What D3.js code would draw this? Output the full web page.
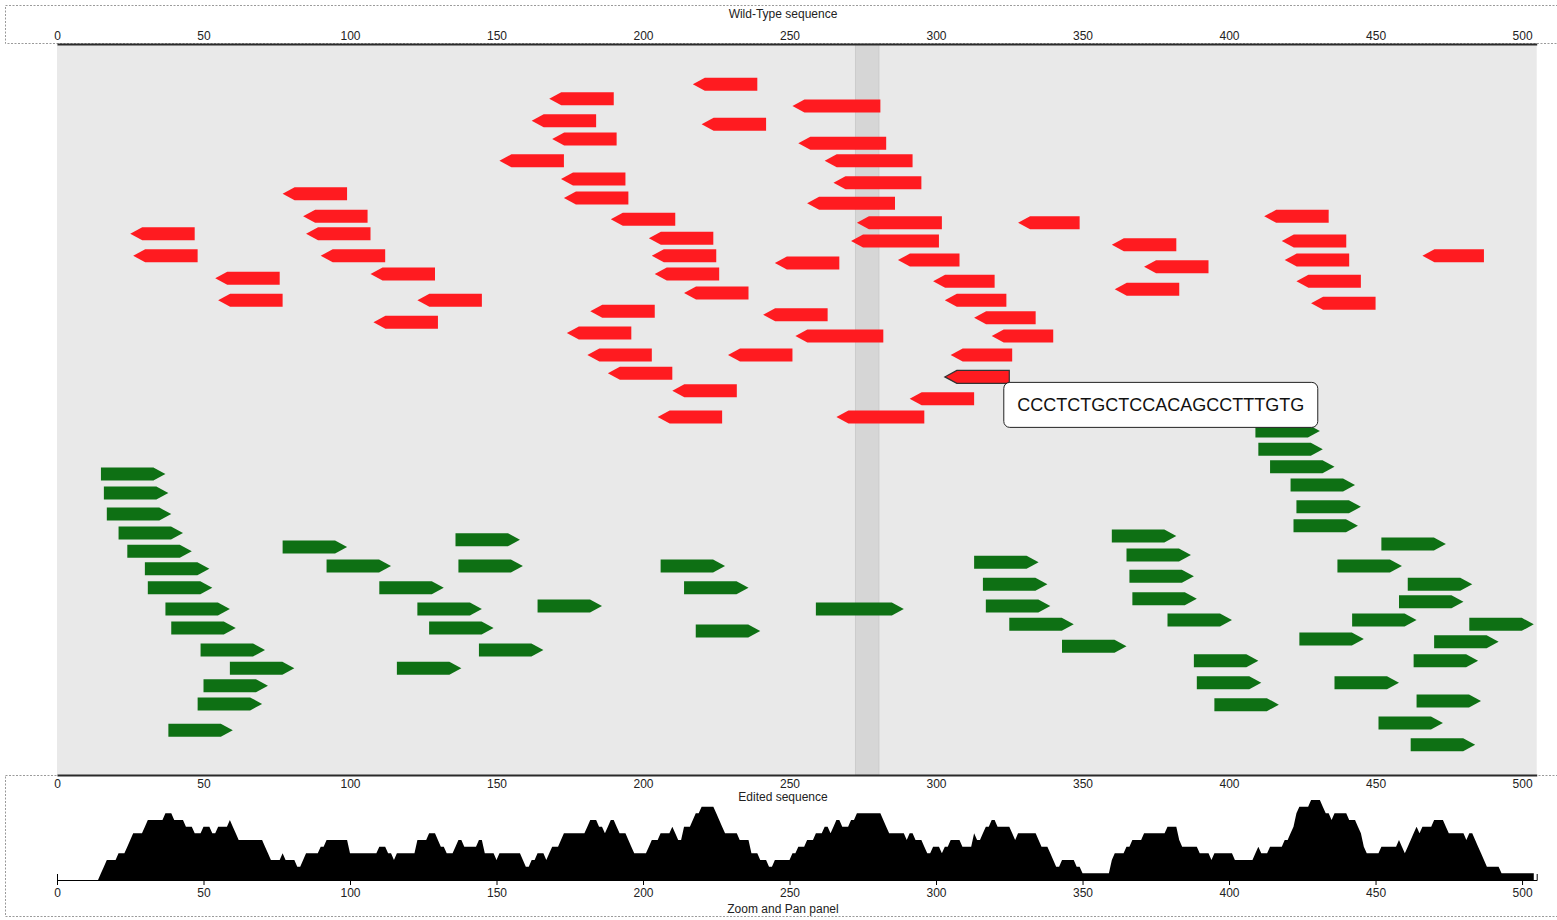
<!DOCTYPE html>
<html>
<head>
<meta charset="utf-8">
<script src="https://cdn.jsdelivr.net/npm/d3@7"></script>
<style>
  body { margin: 0; background: #fff; }
  svg text { font-family: "Liberation Sans", Arial, Helvetica, sans-serif; }
</style>
</head>
<body>
<svg id="chart" width="1557" height="920"></svg>
<script>
// Sequence length and axis ticks (bp)
const seqLength = 505;
const xTicks = [0, 50, 100, 150, 200, 250, 300, 350, 400, 450, 500];

// Guides on the reverse strand: [start bp, end bp, lane]
const reverseGuides = [
  [217, 239, 5.5], [168, 190, 7.5], [162, 184, 10.5], [220, 242, 11.0],
  [169, 191, 13.0], [151, 173, 16.0], [172, 194, 18.5], [173, 195, 21.1],
  [77, 99, 20.5], [84, 106, 23.6], [85, 107, 26.0], [25, 47, 26.0],
  [26, 48, 29.0], [90, 112, 29.0], [107, 129, 31.5], [54, 76, 32.1],
  [55, 77, 35.1], [123, 145, 35.1], [108, 130, 38.1], [189, 211, 24.0],
  [202, 224, 26.6], [203, 225, 29.0], [204, 226, 31.5], [214, 236, 34.1],
  [182, 204, 36.6], [174, 196, 39.6], [181, 203, 42.6], [188, 210, 45.1],
  [210, 232, 47.5], [205, 227, 51.1],
  [251, 281, 8.5], [253, 283, 13.6], [262, 292, 16.0], [265, 295, 19.0],
  [256, 286, 21.8], [273, 302, 24.5], [271, 301, 27.0], [245, 267, 30.0],
  [287, 308, 29.6], [299, 320, 32.5], [303, 324, 35.1], [241, 263, 37.1],
  [313, 334, 37.5], [252, 282, 40.0], [319, 340, 40.0], [229, 251, 42.6],
  [305, 326, 42.6], [303, 325, 45.6], [291, 313, 48.6], [266, 296, 51.1],
  [328, 349, 24.5], [360, 382, 27.5], [371, 393, 30.5], [361, 383, 33.6],
  [412, 434, 23.6], [418, 440, 27.0], [419, 441, 29.6], [423, 445, 32.5],
  [428, 450, 35.5], [466, 487, 29.0]
];

// Guides on the forward strand: [start bp, end bp, lane]
const forwardGuides = [
  [15, 37, 58.9], [16, 38, 61.5], [17, 39, 64.4], [21, 43, 67.0],
  [24, 46, 69.5], [30, 52, 71.9], [31, 53, 74.5], [37, 59, 77.4],
  [39, 61, 80.0], [49, 71, 83.0], [59, 81, 85.5], [50, 72, 87.9],
  [48, 70, 90.4], [38, 60, 94.0], [77, 99, 68.9], [92, 114, 71.5],
  [110, 132, 74.5], [123, 145, 77.4], [127, 149, 80.0], [144, 166, 83.0],
  [116, 138, 85.5], [136, 158, 67.9], [137, 159, 71.5], [164, 186, 77.0],
  [206, 228, 71.5], [214, 236, 74.5], [218, 240, 80.4],
  [409, 431, 53.0], [410, 432, 55.5], [414, 436, 57.9], [421, 443, 60.4],
  [423, 445, 63.4], [422, 444, 66.0], [360, 382, 67.4], [365, 387, 70.0],
  [366, 388, 72.9], [367, 389, 76.0], [379, 401, 78.9], [313, 335, 71.0],
  [316, 338, 74.0], [317, 339, 77.0], [325, 347, 79.5], [343, 365, 82.5],
  [259, 289, 77.4], [388, 410, 84.5], [389, 411, 87.5], [395, 417, 90.5],
  [452, 474, 68.5], [437, 459, 71.5], [461, 483, 74.0], [458, 480, 76.4],
  [442, 464, 78.9], [482, 504, 79.5], [424, 446, 81.5], [470, 492, 81.9],
  [463, 485, 84.5], [436, 458, 87.5], [464, 486, 90.0], [451, 473, 93.0],
  [462, 484, 96.0]
];

// Currently selected window (bp) and the guide under the pointer
const selectedWindow = [272.5, 280.5];
const hoveredIndex = 47;            // index in reverseGuides
const hoveredSequence = "CCCTCTGCTCCACAGCCTTTGTG";

// ---------------------------------------------------------------
const svg = d3.select("#chart");
const plot = { left: 57, right: 1536.7, top: 44, bottom: 775 };
const panel = { base: 880, top: 800 };

const x = d3.scaleLinear().domain([0, seqLength]).range([plot.left, plot.right]);
const y = d3.scaleLinear().domain([0, 100]).range([plot.top, plot.bottom - 1]);

const RED = "#ff1b20", GREEN = "#0e7014";
const arrowH = 13, tipW = 12;

// Dashed frames of the two panels
svg.append("rect").attr("x", 5.5).attr("y", 5.5).attr("width", 1600).attr("height", 38)
  .attr("fill", "none").attr("stroke", "#9a9a9a").attr("stroke-dasharray", "2,1.5");
svg.append("rect").attr("x", 5.5).attr("y", 775.5).attr("width", 1600).attr("height", 141)
  .attr("fill", "none").attr("stroke", "#9a9a9a").attr("stroke-dasharray", "2,1.5");

// Main plot background
svg.append("rect")
  .attr("x", plot.left).attr("y", plot.top)
  .attr("width", plot.right - plot.left).attr("height", plot.bottom - plot.top)
  .attr("fill", "#e9e9e9");

// Selected window band
svg.append("rect")
  .attr("x", x(selectedWindow[0])).attr("y", plot.top)
  .attr("width", x(selectedWindow[1]) - x(selectedWindow[0]))
  .attr("height", plot.bottom - plot.top)
  .attr("fill", "#d6d6d6").attr("stroke", "#cbcbcb").attr("stroke-width", 1);

function arrowPath(d, forward) {
  const x0 = x(d[0]), x1 = x(d[1]), yc = y(d[2]);
  const t = yc - arrowH / 2, b = yc + arrowH / 2;
  if (forward) {
    return `M${x0},${t}L${x1 - tipW},${t}L${x1},${yc}L${x1 - tipW},${b}L${x0},${b}Z`;
  }
  return `M${x1},${t}L${x0 + tipW},${t}L${x0},${yc}L${x0 + tipW},${b}L${x1},${b}Z`;
}

svg.append("g").selectAll("path").data(reverseGuides).join("path")
  .attr("d", d => arrowPath(d, false))
  .attr("fill", RED)
  .attr("stroke", (d, i) => i === hoveredIndex ? "#333" : "none")
  .attr("stroke-width", 1.2);

svg.append("g").selectAll("path").data(forwardGuides).join("path")
  .attr("d", d => arrowPath(d, true))
  .attr("fill", GREEN);

// Top axis (wild-type)
const topAxis = svg.append("g").attr("transform", `translate(0,${plot.top})`)
  .call(d3.axisTop(x).tickValues(xTicks).tickSize(0).tickPadding(4));
topAxis.select(".domain").attr("stroke", "#2a2a2a").attr("stroke-width", 2);
topAxis.selectAll("text").attr("font-size", 12).attr("fill", "#222");

// Bottom axis (edited)
const botAxis = svg.append("g").attr("transform", `translate(0,${plot.bottom})`)
  .call(d3.axisBottom(x).tickValues(xTicks).tickSize(0).tickPadding(4.5));
botAxis.select(".domain").attr("stroke", "#2a2a2a").attr("stroke-width", 2);
botAxis.selectAll("text").attr("font-size", 12).attr("fill", "#222");

// Panel titles
const midX = 783;
svg.append("text").attr("x", midX).attr("y", 17.5).attr("text-anchor", "middle")
  .attr("font-size", 12).attr("fill", "#222").text("Wild-Type sequence");
svg.append("text").attr("x", midX).attr("y", 801).attr("text-anchor", "middle")
  .attr("font-size", 12).attr("fill", "#222").text("Edited sequence");
svg.append("text").attr("x", midX).attr("y", 913).attr("text-anchor", "middle")
  .attr("font-size", 12).attr("fill", "#222").text("Zoom and Pan panel");

// Guide depth along the sequence for the overview panel
const allGuides = reverseGuides.concat(forwardGuides);
const depth = d3.range(0, seqLength).map(p => ({
  pos: p,
  n: allGuides.filter(g => g[0] <= p && p <= g[1]).length
}));
const yCov = d3.scaleLinear().domain([0, 12]).range([panel.base, panel.top]);
svg.append("path")
  .datum(depth)
  .attr("fill", "#000")
  .attr("d", d3.area().x(d => x(d.pos)).y0(panel.base).y1(d => yCov(d.n)));

const panelAxis = svg.append("g").attr("transform", `translate(0,${panel.base})`)
  .call(d3.axisBottom(x).tickValues(xTicks).tickSizeInner(5).tickSizeOuter(-6).tickPadding(3));
panelAxis.selectAll("text").attr("font-size", 12).attr("fill", "#222");
panelAxis.select(".domain").attr("stroke", "#000");

// Tooltip for the hovered guide
const hg = reverseGuides[hoveredIndex];
const tip = svg.append("g")
  .attr("transform", `translate(${x(hg[1]) - 6},${y(hg[2]) + 5})`);
const tipRect = tip.append("rect").attr("rx", 6).attr("ry", 6)
  .attr("fill", "#fff").attr("stroke", "#222").attr("stroke-width", 1);
const tipText = tip.append("text").attr("font-size", 18).attr("fill", "#111")
  .attr("text-anchor", "middle").text(hoveredSequence);
const tw = tipText.node().getComputedTextLength();
const padX = 13.5;
tipRect.attr("x", 0.5).attr("y", 0.5).attr("width", tw + 2 * padX).attr("height", 45);
tipText.attr("x", 0.5 + (tw + 2 * padX) / 2).attr("y", 29);
</script>
</body>
</html>
